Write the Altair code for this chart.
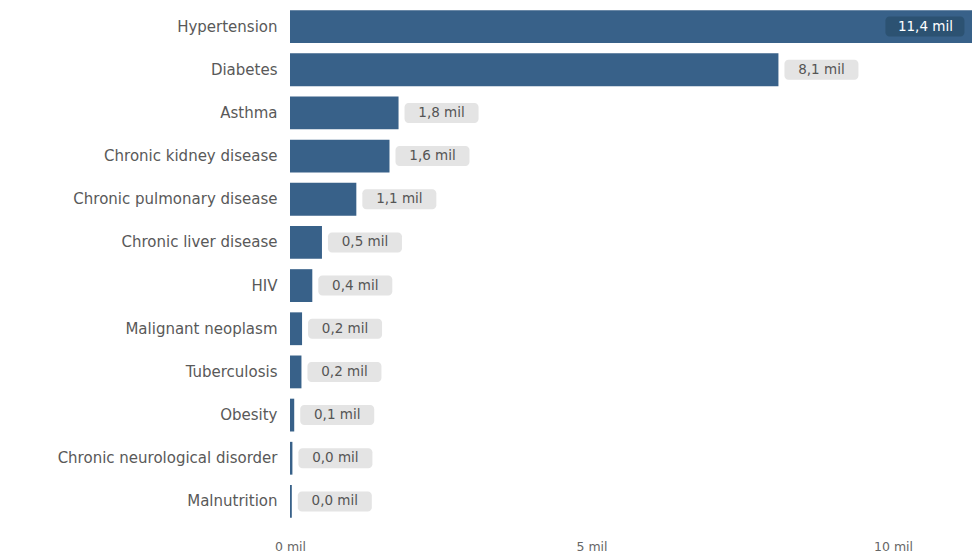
import altair as alt
import pandas as pd

categories = ["Hypertension", "Diabetes", "Asthma", "Chronic kidney disease",
              "Chronic pulmonary disease", "Chronic liver disease", "HIV",
              "Malignant neoplasm", "Tuberculosis", "Obesity",
              "Chronic neurological disorder", "Malnutrition"]
values = [11.4, 8.1, 1.8, 1.65, 1.1, 0.53, 0.37, 0.2, 0.19, 0.07, 0.04, 0.03]
labels = ["11,4 mil", "8,1 mil", "1,8 mil", "1,6 mil", "1,1 mil", "0,5 mil",
          "0,4 mil", "0,2 mil", "0,2 mil", "0,1 mil", "0,0 mil", "0,0 mil"]
x_ticks = [0, 5, 10]

df = pd.DataFrame({"cat": categories, "val": values, "lab": labels})

FONT = "DejaVu Sans"
BAR = "#386189"

y = alt.Y("cat:N", sort=categories, title=None,
          scale=alt.Scale(paddingInner=0.24, paddingOuter=0.12),
          axis=alt.Axis(domain=False, ticks=False, labelFont=FONT, labelFontSize=15,
                        labelColor="#595959", labelPadding=13, labelLimit=300))
x = alt.X("val:Q", title=None,
          scale=alt.Scale(domain=[0, 11.31], nice=False, zero=True),
          axis=alt.Axis(values=x_ticks, grid=False, domain=False, ticks=False,
                        labelExpr="datum.value + ' mil'", labelFont=FONT,
                        labelFontSize=12.5, labelColor="#666666", labelPadding=17,
                        labelFlush=False))

base = alt.Chart(df)

bars = base.mark_bar(color=BAR, clip=True).encode(y=y, x=x)

outside = base.transform_filter("datum.cat != 'Hypertension'")
boxes = outside.mark_bar(color="#e4e4e4", size=20, cornerRadius=4,
                         xOffset=6, x2Offset=80).encode(y=y, x=x, x2="val:Q")
texts = outside.mark_text(font=FONT, fontSize=13.5, color="#555555", align="center",
                          dx=43).encode(y=y, x=x, text="lab:N")

inside = base.transform_filter("datum.cat == 'Hypertension'")
box_in = inside.mark_bar(color="#2c5272", size=20, cornerRadius=4,
                         xOffset=-92, x2Offset=-13, clip=True).encode(y=y, x=x, x2="val:Q")
text_in = inside.mark_text(font=FONT, fontSize=13.5, color="#ffffff", align="center",
                           dx=-52).encode(y=y, x=x, text="lab:N")

chart = alt.layer(bars, boxes, texts, box_in, text_in).properties(
    width=682, height=518,
    autosize=alt.AutoSizeParams(type="none"),
    padding={"left": 290, "top": 5, "right": 0, "bottom": 31},
    background="#ffffff",
).configure_view(strokeWidth=0)

chart.save("out.html", embed_options={"renderer": "svg", "actions": False})
